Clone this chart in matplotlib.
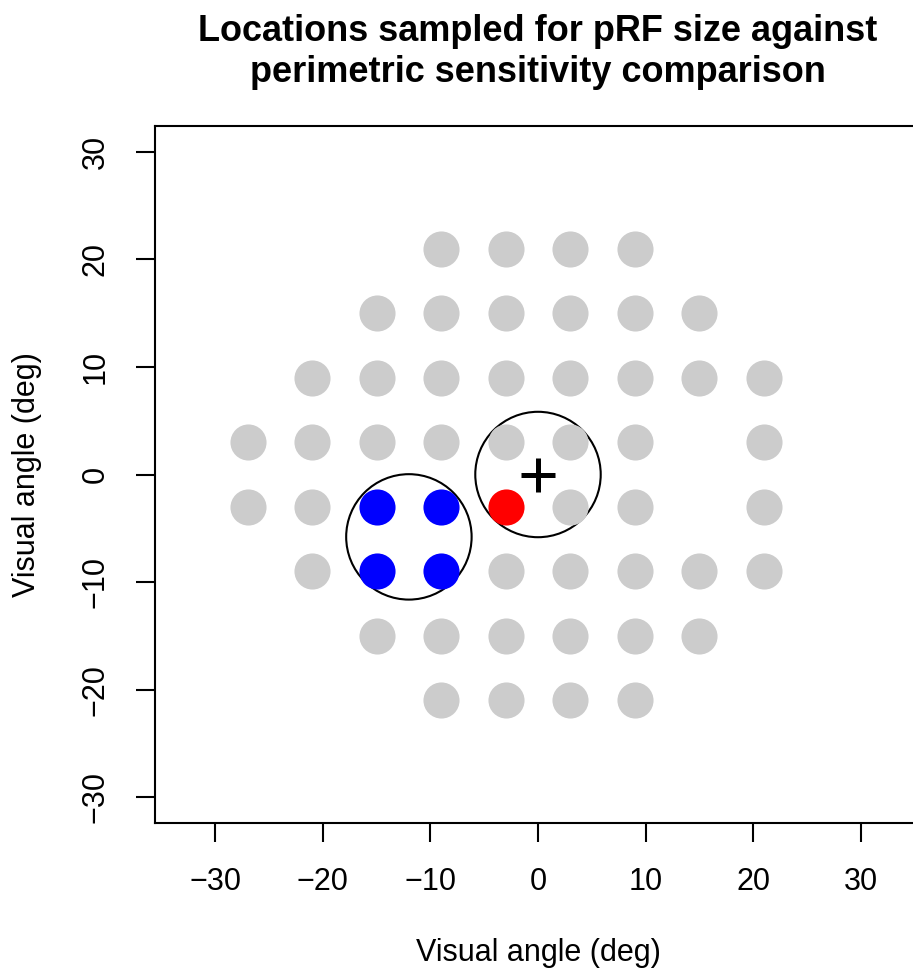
import matplotlib
matplotlib.use("Agg")
import matplotlib.pyplot as plt
from matplotlib.patches import Circle

plt.rcParams['font.family'] = ['Liberation Sans', 'DejaVu Sans']

# 24-2 perimetry grid locations (deg)
grid_x = [-9, -3, 3, 9,
          -15, -9, -3, 3, 9, 15,
          -21, -15, -9, -3, 3, 9, 15, 21,
          -27, -21, -15, -9, -3, 3, 9, 21,
          -27, -21, 3, 9, 21,
          -21, -3, 3, 9, 15, 21,
          -15, -9, -3, 3, 9, 15,
          -9, -3, 3, 9]
grid_y = [21, 21, 21, 21,
          15, 15, 15, 15, 15, 15,
          9, 9, 9, 9, 9, 9, 9, 9,
          3, 3, 3, 3, 3, 3, 3, 3,
          -3, -3, -3, -3, -3,
          -9, -9, -9, -9, -9, -9,
          -15, -15, -15, -15, -15, -15,
          -21, -21, -21, -21]

# locations inside the pRF sampled for comparison
blue_x = [-15, -9, -15, -9]
blue_y = [-3, -3, -9, -9]
red_x = [-3]
red_y = [-3]

# pRF circles: centre x, centre y, radius
circ_x = [0, -12]
circ_y = [0, -5.8]
circ_r = [5.83, 5.83]

fig = plt.figure(figsize=(9.13, 9.69), dpi=100)
W, H = 913, 969
left, right, top, bottom = 155, 921, 126, 823
ax = fig.add_axes([left / W, (H - bottom) / H, (right - left) / W, (bottom - top) / H])

ax.plot(grid_x, grid_y, 'o', ms=26, color='#cccccc', mec='none')
ax.plot(blue_x, blue_y, 'o', ms=26, color='#0000ff', mec='none')
ax.plot(red_x, red_y, 'o', ms=26, color='#ff0000', mec='none')
ax.plot([0], [0], '+', ms=24, mew=3.6, color='black')
for cx, cy, r in zip(circ_x, circ_y, circ_r):
    ax.add_patch(Circle((cx, cy), r, fill=False, ec='black', lw=1.5))

ax.set_xlim(-35.6, 35.6)
ax.set_ylim(-32.4, 32.4)
ticks = [-30, -20, -10, 0, 10, 20, 30]
labels = ['\u221230', '\u221220', '\u221210', '0', '10', '20', '30']
ax.set_xticks(ticks)
ax.set_yticks(ticks)
ax.set_xticklabels(labels)
ax.set_yticklabels(labels, rotation=90, va='center')
ax.tick_params(length=14, width=1.5, labelsize=22, direction='out')
ax.tick_params(axis='x', pad=18)
ax.tick_params(axis='y', pad=18)
for s in ax.spines.values():
    s.set_linewidth(1.5)

ax.set_xlabel('Visual angle (deg)', fontsize=22, labelpad=29)
ax.set_ylabel('Visual angle (deg)', fontsize=22, labelpad=28)
fig.text(538 / W, 1 - 52 / H, 'Locations sampled for pRF size against\nperimetric sensitivity comparison',
         ha='center', va='center', fontsize=26, fontweight='bold', linespacing=1.2)

fig.savefig('out.png', dpi=100)
